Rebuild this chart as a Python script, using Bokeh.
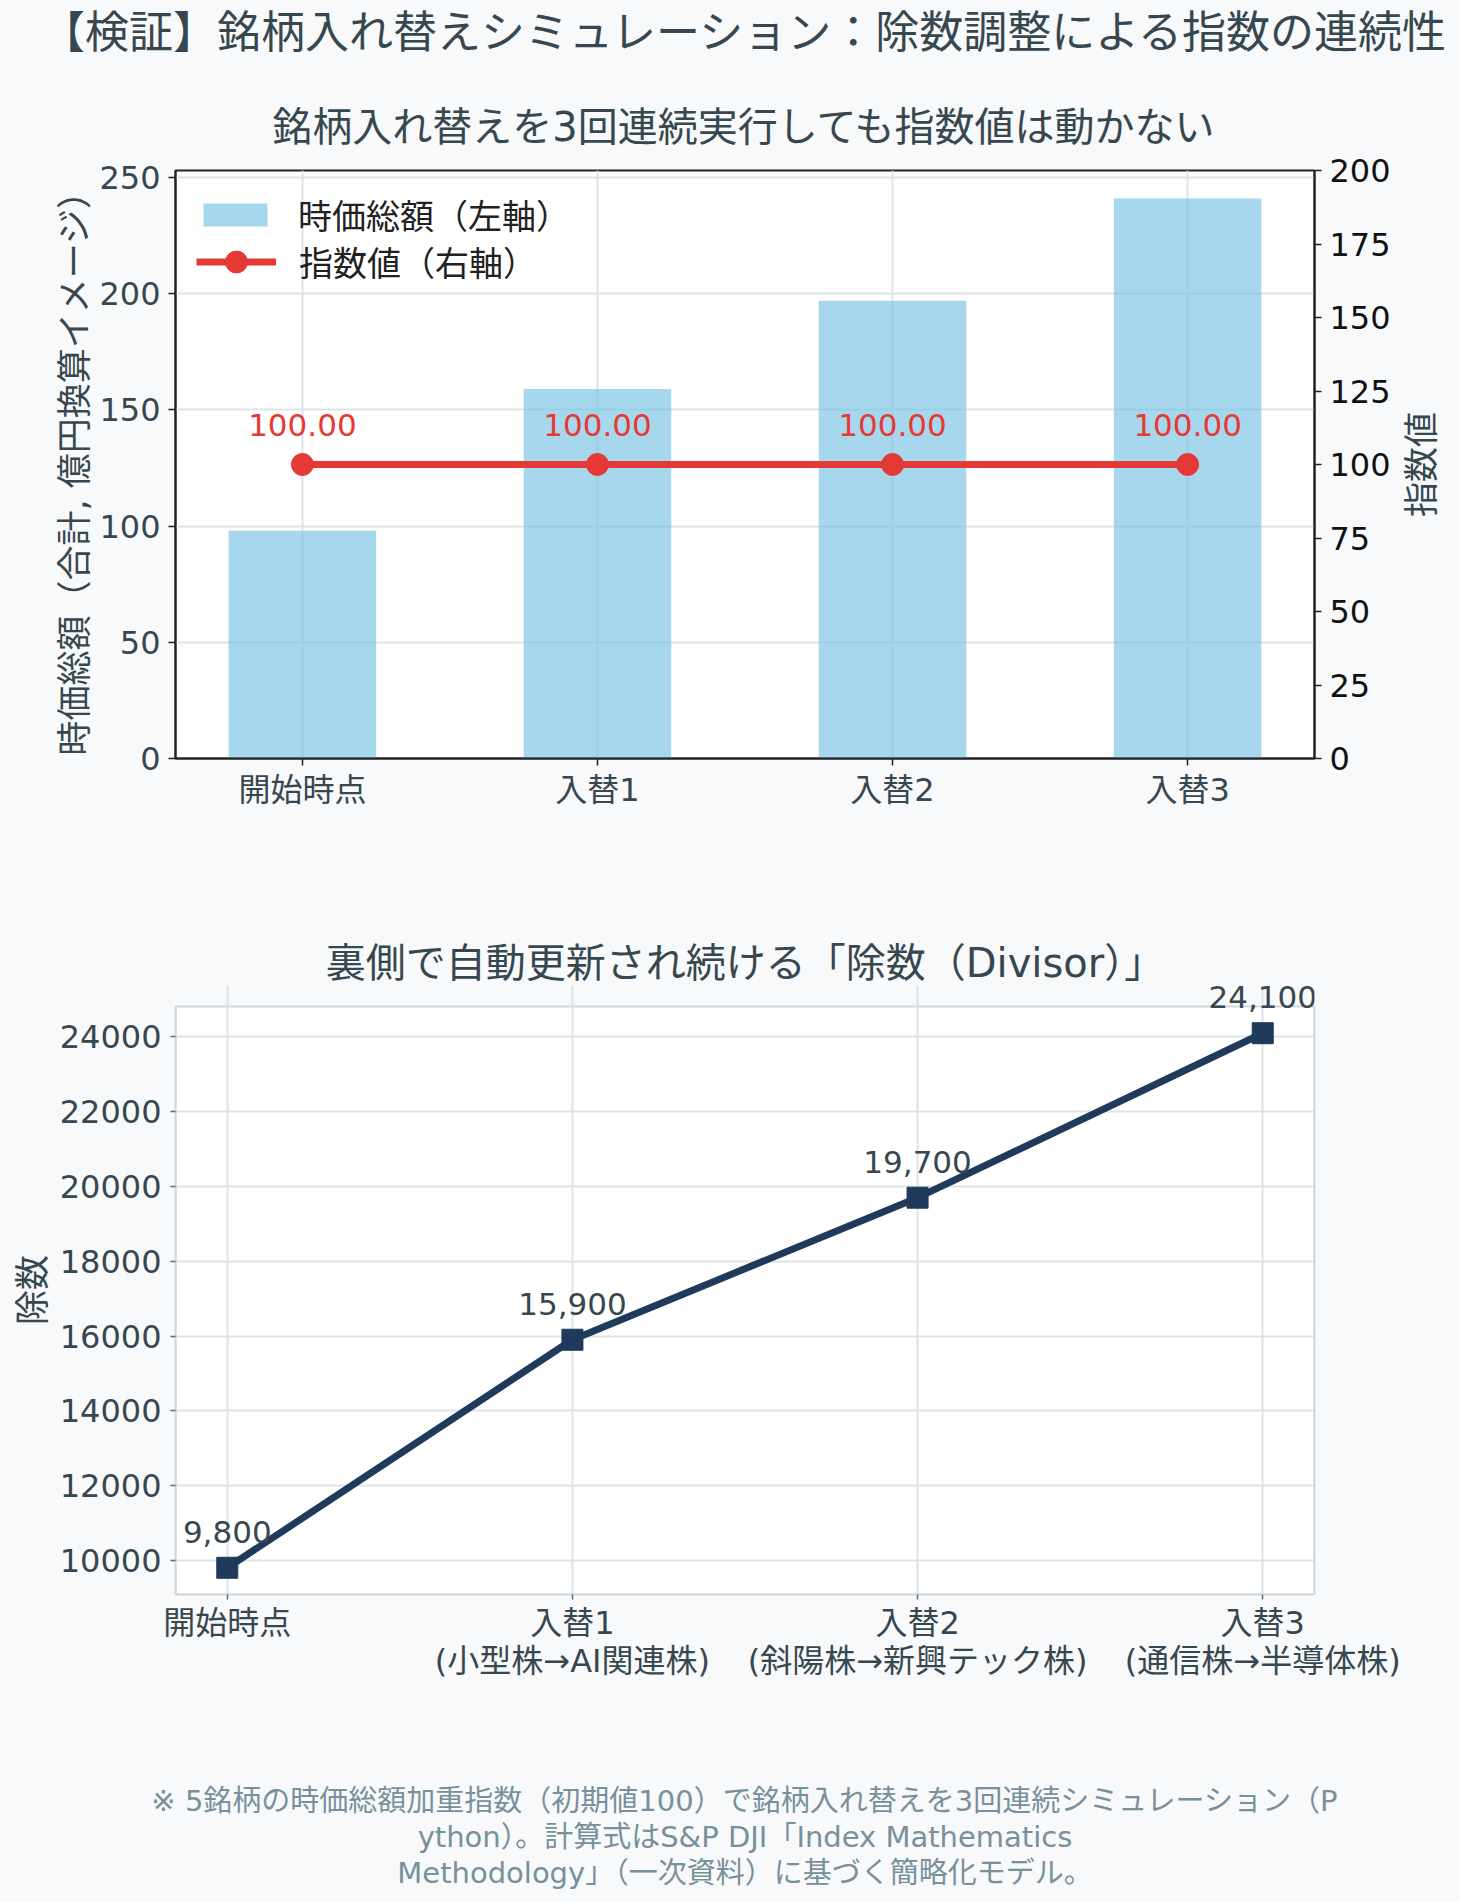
import math
from bokeh.plotting import figure
from bokeh.models import (Range1d, LinearAxis, FixedTicker, Title, Legend, LegendItem,
                          NumeralTickFormatter)
from bokeh.layouts import column, row
from bokeh.embed import file_html
from bokeh.resources import INLINE
from bokeh.core.properties import value

# ---------------- data ----------------
steps = ["開始時点", "入替1", "入替2", "入替3"]
swap_notes = ["", "(小型株→AI関連株)", "(斜陽株→新興テック株)", "(通信株→半導体株)"]
market_cap = [98, 159, 197, 241]          # 億円換算イメージ
index_value = [100.0, 100.0, 100.0, 100.0]
divisor = [9800, 15900, 19700, 24100]

left_ticks = [0, 50, 100, 150, 200, 250]
right_ticks = [0, 25, 50, 75, 100, 125, 150, 175, 200]
div_ticks = [10000, 12000, 14000, 16000, 18000, 20000, 22000, 24000]

main_title = "【検証】銘柄入れ替えシミュレーション：除数調整による指数の連続性"
top_title = "銘柄入れ替えを3回連続実行しても指数値は動かない"
bottom_title = "裏側で自動更新され続ける「除数（Divisor）」"
left_label = "時価総額（合計, 億円換算イメージ）"
right_label = "指数値"
div_label = "除数"
legend_labels = ["時価総額（左軸）", "指数値（右軸）"]
footnote_lines = [
    "※ 5銘柄の時価総額加重指数（初期値100）で銘柄入れ替えを3回連続シミュレーション（P",
    "ython）。計算式はS&P DJI「Index Mathematics",
    "Methodology」（一次資料）に基づく簡略化モデル。",
]

# ---------------- style ----------------
FONT = "DejaVu Sans, Noto Sans CJK JP"
BG = "#f8f9fa"
TXT = "#37474f"
RED = "#e53935"
NAVY = "#1f3a5a"
GRID = "#dde3e7"
SPINE_LIGHT = "#cfd8dc"
DARK = "#222222"

xs = list(range(len(steps)))
W = 1460
FL, FR = 175, 1314                 # plot-area left / right edges on the page

# ================= header (main title) =================
HH = 60
head = figure(width=W, height=HH, title=main_title, x_range=Range1d(0, 1),
              y_range=Range1d(0, 1), x_axis_location=None, y_axis_location=None,
              output_backend="svg", toolbar_location=None,
              min_border_left=FL, min_border_right=W - FR,
              min_border_top=HH - 1, min_border_bottom=0,
              background_fill_color=BG, border_fill_color=BG)
head.outline_line_color = None
head.grid.visible = False
head.title.text_font = FONT
head.title.text_font_size = "44px"
head.title.text_font_style = "normal"
head.title.text_color = TXT
head.title.align = "center"
head.title.vertical_align = "top"
head.title.standoff = 0

# ================= top chart =================
H1, TOP1, BOT1 = 880 - HH, 170 - HH, 122
W1 = 1398
p1 = figure(width=W1, height=H1, title=top_title,
            x_range=Range1d(-0.43, 3.43),
            y_range=Range1d(0, max(market_cap) * 1.05),
            output_backend="svg", toolbar_location=None,
            min_border_left=FL, min_border_right=W1 - FR,
            min_border_top=TOP1, min_border_bottom=BOT1,
            background_fill_color="white", border_fill_color=BG)
p1.extra_y_ranges = {"right": Range1d(0, 200)}

p1.title.text_font = FONT
p1.title.text_font_size = "40px"
p1.title.text_font_style = "normal"
p1.title.text_color = TXT
p1.title.align = "center"
p1.title.standoff = 42

p1.outline_line_color = DARK
p1.outline_line_width = 2

xa = p1.xaxis[0]
xa.ticker = FixedTicker(ticks=xs)
xa.major_label_overrides = {i: s for i, s in enumerate(steps)}
ya = p1.yaxis[0]
ya.ticker = FixedTicker(ticks=left_ticks)
ya.axis_label = left_label

ra = LinearAxis(y_range_name="right", ticker=FixedTicker(ticks=right_ticks))
p1.add_layout(ra, "right")

for ax in (xa, ya, ra):
    ax.axis_line_color = DARK
    ax.axis_line_width = 2
    ax.major_tick_line_color = DARK
    ax.major_tick_line_width = 1.5
    ax.major_tick_out = 7
    ax.major_tick_in = 0
    ax.minor_tick_line_color = None
    ax.major_label_text_font = FONT
    ax.major_label_text_font_size = "32px"
    ax.major_label_text_color = TXT
    ax.major_label_standoff = 8
    ax.axis_label_text_font = FONT
    ax.axis_label_text_font_size = "35px"
    ax.axis_label_text_font_style = "normal"
    ax.axis_label_text_color = TXT
    ax.axis_label_standoff = 1
xa.major_label_standoff = 5
ra.major_label_text_color = "#111111"

p1.xgrid.grid_line_color = GRID
p1.xgrid.grid_line_width = 2
p1.ygrid.grid_line_color = GRID
p1.ygrid.grid_line_width = 2

bars = p1.vbar(x=xs, top=market_cap, width=0.5, fill_color="#7cc4e4",
               fill_alpha=0.68, line_color=None)
ln = p1.line(xs, index_value, y_range_name="right", line_color=RED, line_width=7)
sc = p1.scatter(xs, index_value, y_range_name="right", marker="circle", size=22,
                fill_color=RED, line_color=RED)
p1.text(xs, index_value, text=[f"{v:.2f}" for v in index_value], y_range_name="right",
        text_align="center", text_baseline="middle", y_offset=-40,
        text_font=value(FONT), text_font_size="31px", text_color=RED)

leg_common = dict(margin=0, background_fill_alpha=0, border_line_alpha=0,
                  label_text_font=FONT, label_text_font_size="34px",
                  label_text_color="#212121", glyph_width=80, label_standoff=23,
                  label_height=38)
legend_a = Legend(items=[LegendItem(label=legend_labels[0], renderers=[bars])],
                  location="top_left", padding=20, glyph_height=29, **leg_common)
frame_h1 = H1 - TOP1 - BOT1
row_h = 55
legend_b = Legend(items=[LegendItem(label=legend_labels[1], renderers=[ln, sc])],
                  location=(21, frame_h1 - 91 - row_h / 2), padding=0,
                  glyph_height=row_h, **leg_common)
p1.add_layout(legend_a)
p1.add_layout(legend_b)

# right-hand axis title (reads bottom-to-top like the left one)
side = figure(width=W - W1, height=H1, x_range=Range1d(0, 1),
              y_range=Range1d(0, 200), x_axis_location=None,
              y_axis_location="left", output_backend="svg", toolbar_location=None,
              min_border_left=42, min_border_right=0,
              min_border_top=TOP1, min_border_bottom=BOT1,
              background_fill_color=BG, border_fill_color=BG)
side.outline_line_color = None
side.grid.visible = False
sa = side.yaxis[0]
sa.ticker = FixedTicker(ticks=[])
sa.axis_line_color = None
sa.major_tick_line_color = None
sa.minor_tick_line_color = None
sa.major_label_text_font_size = "0px"
sa.axis_label = right_label
sa.axis_label_text_font = FONT
sa.axis_label_text_font_size = "35px"
sa.axis_label_text_font_style = "normal"
sa.axis_label_text_color = TXT
sa.axis_label_standoff = 0

# ================= bottom chart =================
H2, TOP2, BOT2 = 1022, 105, 308
VIS_TOP = 126                      # visible plot-area top inside this figure
span = max(divisor) - min(divisor)
y_lo = min(divisor) - 0.05 * span
y_hi = max(divisor) + 0.05 * span
vis_h = H2 - BOT2 - VIS_TOP
y_ext = y_hi + (y_hi - y_lo) * (VIS_TOP - TOP2) / vis_h   # room for the top label
x_lo, x_hi = -0.15, 3.15

p2 = figure(width=W, height=H2, title=bottom_title,
            x_range=Range1d(x_lo, x_hi), y_range=Range1d(y_lo, y_ext),
            output_backend="svg", toolbar_location=None,
            min_border_left=FL, min_border_right=W - FR,
            min_border_top=TOP2, min_border_bottom=BOT2,
            background_fill_color=BG, border_fill_color=BG)
p2.outline_line_color = None

p2.title.text_font = FONT
p2.title.text_font_size = "40px"
p2.title.text_font_style = "normal"
p2.title.text_color = TXT
p2.title.align = "center"
p2.title.standoff = 0

# white plot area with light spines
p2.quad(left=[x_lo], right=[x_hi], bottom=[y_lo], top=[y_hi],
        fill_color="white", line_color=SPINE_LIGHT, line_width=2, level="image")

xb = p2.xaxis[0]
xb.ticker = FixedTicker(ticks=xs)
xb.major_label_overrides = {
    i: (s + ("\n" + n if n else "")) for i, (s, n) in enumerate(zip(steps, swap_notes))
}
yb = p2.yaxis[0]
yb.ticker = FixedTicker(ticks=div_ticks)
yb.formatter = NumeralTickFormatter(format="0")
yb.axis_label = div_label
yb.bounds = (y_lo, y_hi)

rb = LinearAxis(ticker=FixedTicker(ticks=[]), bounds=(y_lo, y_hi))
rb.major_label_text_font_size = "0px"
p2.add_layout(rb, "right")

for ax in (xb, yb, rb):
    ax.axis_line_color = SPINE_LIGHT
    ax.axis_line_width = 2
    ax.major_tick_line_color = "#546e7a"
    ax.major_tick_line_width = 1.5
    ax.major_tick_out = 5
    ax.major_tick_in = 0
    ax.minor_tick_line_color = None
    ax.major_label_text_font = FONT
    ax.major_label_text_color = TXT
    ax.major_label_standoff = 9
    ax.axis_label_text_font = FONT
    ax.axis_label_text_font_size = "35px"
    ax.axis_label_text_font_style = "normal"
    ax.axis_label_text_color = TXT
    ax.axis_label_standoff = 4
xb.major_label_text_font_size = "32px"
yb.major_label_text_font_size = "32px"
xb.major_label_standoff = 4
xb.major_label_text_line_height = 1.0

p2.xgrid.grid_line_color = GRID
p2.xgrid.grid_line_width = 2
p2.xgrid.bounds = (y_lo, y_hi)
p2.ygrid.grid_line_color = GRID
p2.ygrid.grid_line_width = 2

p2.line(xs, divisor, line_color=NAVY, line_width=7)
p2.scatter(xs, divisor, marker="square", size=21, fill_color=NAVY, line_color=NAVY)
p2.text(xs, divisor, text=[f"{v:,}" for v in divisor],
        text_align="center", text_baseline="middle", y_offset=-36,
        text_font=value(FONT), text_font_size="31px", text_color=TXT)

# spacer between axis labels and the footnote, then the footnote lines
p2.add_layout(Title(text=" ", text_font=FONT, text_font_size="10px",
                    text_font_style="normal", text_color=BG, standoff=86), "below")
for line in footnote_lines:
    p2.add_layout(Title(text=line, text_font=FONT, text_font_size="29px",
                        text_font_style="normal", text_color="#78909c",
                        align="center", standoff=0), "below")

layout = column(head, row(p1, side, spacing=0), p2, spacing=0)
layout.background = BG

with open("out.html", "w") as f:
    f.write(file_html(layout, INLINE, title="除数調整による指数の連続性"))
